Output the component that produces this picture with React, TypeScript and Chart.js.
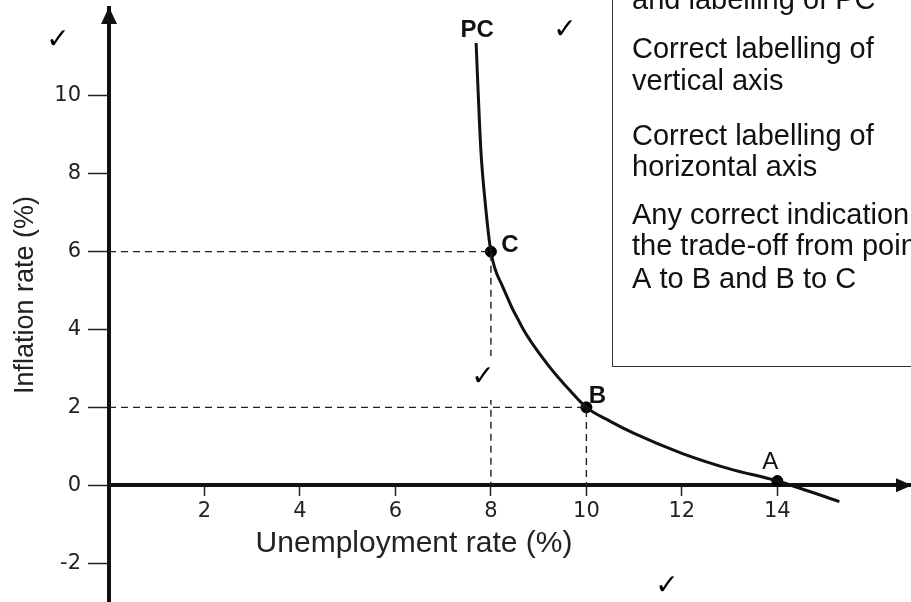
import React, { useEffect, useRef } from "react";
import { Chart, registerables } from "chart.js";

Chart.register(...registerables);

// ---- data ----
const curveX = [7.69, 7.74, 7.79, 7.875, 8, 8.25, 8.68, 9.19, 9.68, 10, 10.5, 11, 12, 13, 14, 15.3];
const curveY = [11.36, 9.9, 8.6, 7.33, 6, 5.09, 4.0, 3.1, 2.4, 2, 1.64, 1.33, 0.82, 0.42, 0.11, -0.42];
const curveLabel = "PC";

const pointLabels = ["C", "B", "A"];
const pointX = [8, 10, 14];
const pointY = [6, 2, 0.11];
const guidePoints = ["C", "B"];

const xTicks = [2, 4, 6, 8, 10, 12, 14];
const yTicks = [-2, 0, 2, 4, 6, 8, 10];
const xRange = [0, 16.8];
const yRange = [-3, 12.26];

const xTitle = "Unemployment rate (%)";
const yTitle = "Inflation rate (%)";

const boxLines = [
  "and labelling of PC",
  "Correct labelling of",
  "vertical axis",
  "Correct labelling of",
  "horizontal axis",
  "Any correct indication of",
  "the trade-off from point",
  "A to B and B to C",
];
const boxBaselines = [9, 58, 90, 145, 176, 224, 255, 288];

const checkMarks = [
  [58, 41],
  [565, 31],
  [483, 378],
  [667, 587],
];

const SANS = '"Liberation Sans", Arial, sans-serif';
const TICKFONT = '"DejaVu Sans", Verdana, sans-serif';

const overlayPlugin = {
  id: "overlay",
  afterDraw(chart: any) {
    const { ctx, chartArea, scales } = chart;
    const xs = scales.x;
    const ys = scales.y;
    ctx.save();

    // axis arrows
    const axX = chartArea.left;
    const axY = ys.getPixelForValue(0);
    ctx.fillStyle = "#111";
    ctx.beginPath();
    ctx.moveTo(axX, chartArea.top - 1);
    ctx.lineTo(axX - 8, chartArea.top + 16);
    ctx.lineTo(axX + 8, chartArea.top + 16);
    ctx.closePath();
    ctx.fill();
    ctx.beginPath();
    ctx.moveTo(chartArea.right + 1, axY);
    ctx.lineTo(chartArea.right - 15, axY - 7);
    ctx.lineTo(chartArea.right - 15, axY + 7);
    ctx.closePath();
    ctx.fill();

    // mask behind third check (interrupts dashed line)
    ctx.fillStyle = "#fff";
    ctx.fillRect(470, 356, 32, 44);

    // text box
    ctx.strokeStyle = "#333";
    ctx.lineWidth = 1;
    ctx.strokeRect(612.5, -10, 400, 376.5);
    ctx.fillStyle = "#111";
    ctx.font = `29px ${SANS}`;
    ctx.textAlign = "left";
    ctx.textBaseline = "alphabetic";
    boxLines.forEach((t, i) => ctx.fillText(t, 632, boxBaselines[i]));

    // curve label
    ctx.font = `bold 24px ${SANS}`;
    ctx.textAlign = "center";
    ctx.textBaseline = "middle";
    const px0 = xs.getPixelForValue(curveX[0]);
    const py0 = ys.getPixelForValue(curveY[0]);
    ctx.fillText(curveLabel, px0 + 1, py0 - 13);

    // point labels
    const offs: Record<string, [number, number, string]> = {
      C: [19, -6, "bold"],
      B: [11, -11, "bold"],
      A: [-7, -19, "normal"],
    };
    pointLabels.forEach((lab, i) => {
      const px = xs.getPixelForValue(pointX[i]);
      const py = ys.getPixelForValue(pointY[i]);
      const o = offs[lab];
      ctx.font = `${o[2]} 24px ${SANS}`;
      ctx.fillText(lab, px + o[0], py + o[1]);
    });

    // axis titles
    ctx.fillStyle = "#222";
    ctx.font = `30px ${SANS}`;
    ctx.textAlign = "center";
    ctx.textBaseline = "alphabetic";
    ctx.fillText(xTitle, 414, 552);
    ctx.save();
    ctx.translate(33, 295);
    ctx.rotate(-Math.PI / 2);
    ctx.font = `27px ${SANS}`;
    ctx.fillText(yTitle, 0, 0);
    ctx.restore();

    // check marks
    ctx.fillStyle = "#000";
    ctx.font = `28px ${TICKFONT}`;
    ctx.textAlign = "center";
    ctx.textBaseline = "middle";
    checkMarks.forEach(([cx, cy]) => ctx.fillText("\u2713", cx, cy));

    ctx.restore();
  },
};

export default function App() {
  const ref = useRef<HTMLCanvasElement | null>(null);

  useEffect(() => {
    document.body.style.margin = "0";
    let chart: Chart | null = null;
    let cancelled = false;

    const make = () => {
      if (cancelled || !ref.current) return;
      const guides = guidePoints.map((lab) => {
        const i = pointLabels.indexOf(lab);
        return {
          type: "line" as const,
          data: [
            { x: xRange[0], y: pointY[i] },
            { x: pointX[i], y: pointY[i] },
            { x: pointX[i], y: 0 },
          ],
          borderColor: "#222",
          borderWidth: 1.4,
          borderDash: [7, 5],
          pointRadius: 0,
          tension: 0,
          fill: false,
        };
      });

      chart = new Chart(ref.current, {
        type: "line",
        data: {
          datasets: [
            ...guides,
            {
              type: "line",
              data: curveX.map((x, i) => ({ x, y: curveY[i] })),
              borderColor: "#111",
              borderWidth: 3,
              pointRadius: 0,
              cubicInterpolationMode: "monotone",
              fill: false,
            },
            {
              type: "scatter",
              data: pointX.map((x, i) => ({ x, y: pointY[i] })),
              backgroundColor: "#000",
              borderColor: "#000",
              pointRadius: 5.5,
              pointHoverRadius: 5.5,
            },
          ] as any,
        },
        options: {
          responsive: false,
          animation: false,
          events: [],
          layout: { autoPadding: false, padding: { top: 8, left: 0, right: 0, bottom: 0 } },
          plugins: {
            legend: { display: false },
            tooltip: { enabled: false },
          },
          scales: {
            x: {
              type: "linear",
              min: xRange[0],
              max: xRange[1],
              position: { y: 0 } as any,
              afterBuildTicks: (s: any) => {
                s.ticks = xTicks.map((v) => ({ value: v }));
              },
              afterFit: (s: any) => {
                s.height = 0;
                s.paddingLeft = 0;
                s.paddingRight = 0;
                s.paddingTop = 0;
                s.paddingBottom = 0;
              },
              grid: {
                display: true,
                drawOnChartArea: false,
                drawTicks: true,
                tickLength: 9,
                tickWidth: 1.5,
                tickColor: "#222",
              },
              border: { display: true, width: 4, color: "#111" },
              ticks: {
                autoSkip: false,
                maxRotation: 0,
                padding: 5,
                color: "#222",
                font: { family: TICKFONT, size: 21 },
              },
            },
            y: {
              type: "linear",
              min: yRange[0],
              max: yRange[1],
              position: "left",
              afterBuildTicks: (s: any) => {
                s.ticks = yTicks.map((v) => ({ value: v }));
              },
              afterFit: (s: any) => {
                s.width = 109;
                s.paddingTop = 0;
                s.paddingBottom = 0;
                s.paddingLeft = 0;
                s.paddingRight = 0;
              },
              grid: {
                display: true,
                drawOnChartArea: false,
                drawTicks: true,
                tickLength: 21,
                tickWidth: 1.5,
                tickColor: "#222",
              },
              border: { display: true, width: 4, color: "#111" },
              ticks: {
                autoSkip: false,
                padding: 7,
                color: "#222",
                font: { family: TICKFONT, size: 21 },
              },
            },
          },
        },
        plugins: [overlayPlugin],
      });
    };

    const fonts = (document as any).fonts;
    if (fonts && fonts.load) {
      Promise.all([
        fonts.load(`21px ${TICKFONT}`),
        fonts.load(`29px ${SANS}`),
        fonts.load(`bold 24px ${SANS}`),
      ])
        .catch(() => null)
        .then(make);
    } else {
      make();
    }

    return () => {
      cancelled = true;
      if (chart) chart.destroy();
    };
  }, []);

  return (
    <canvas
      ref={ref}
      width={911}
      height={602}
      style={{ display: "block", width: 911, height: 602 }}
    />
  );
}
